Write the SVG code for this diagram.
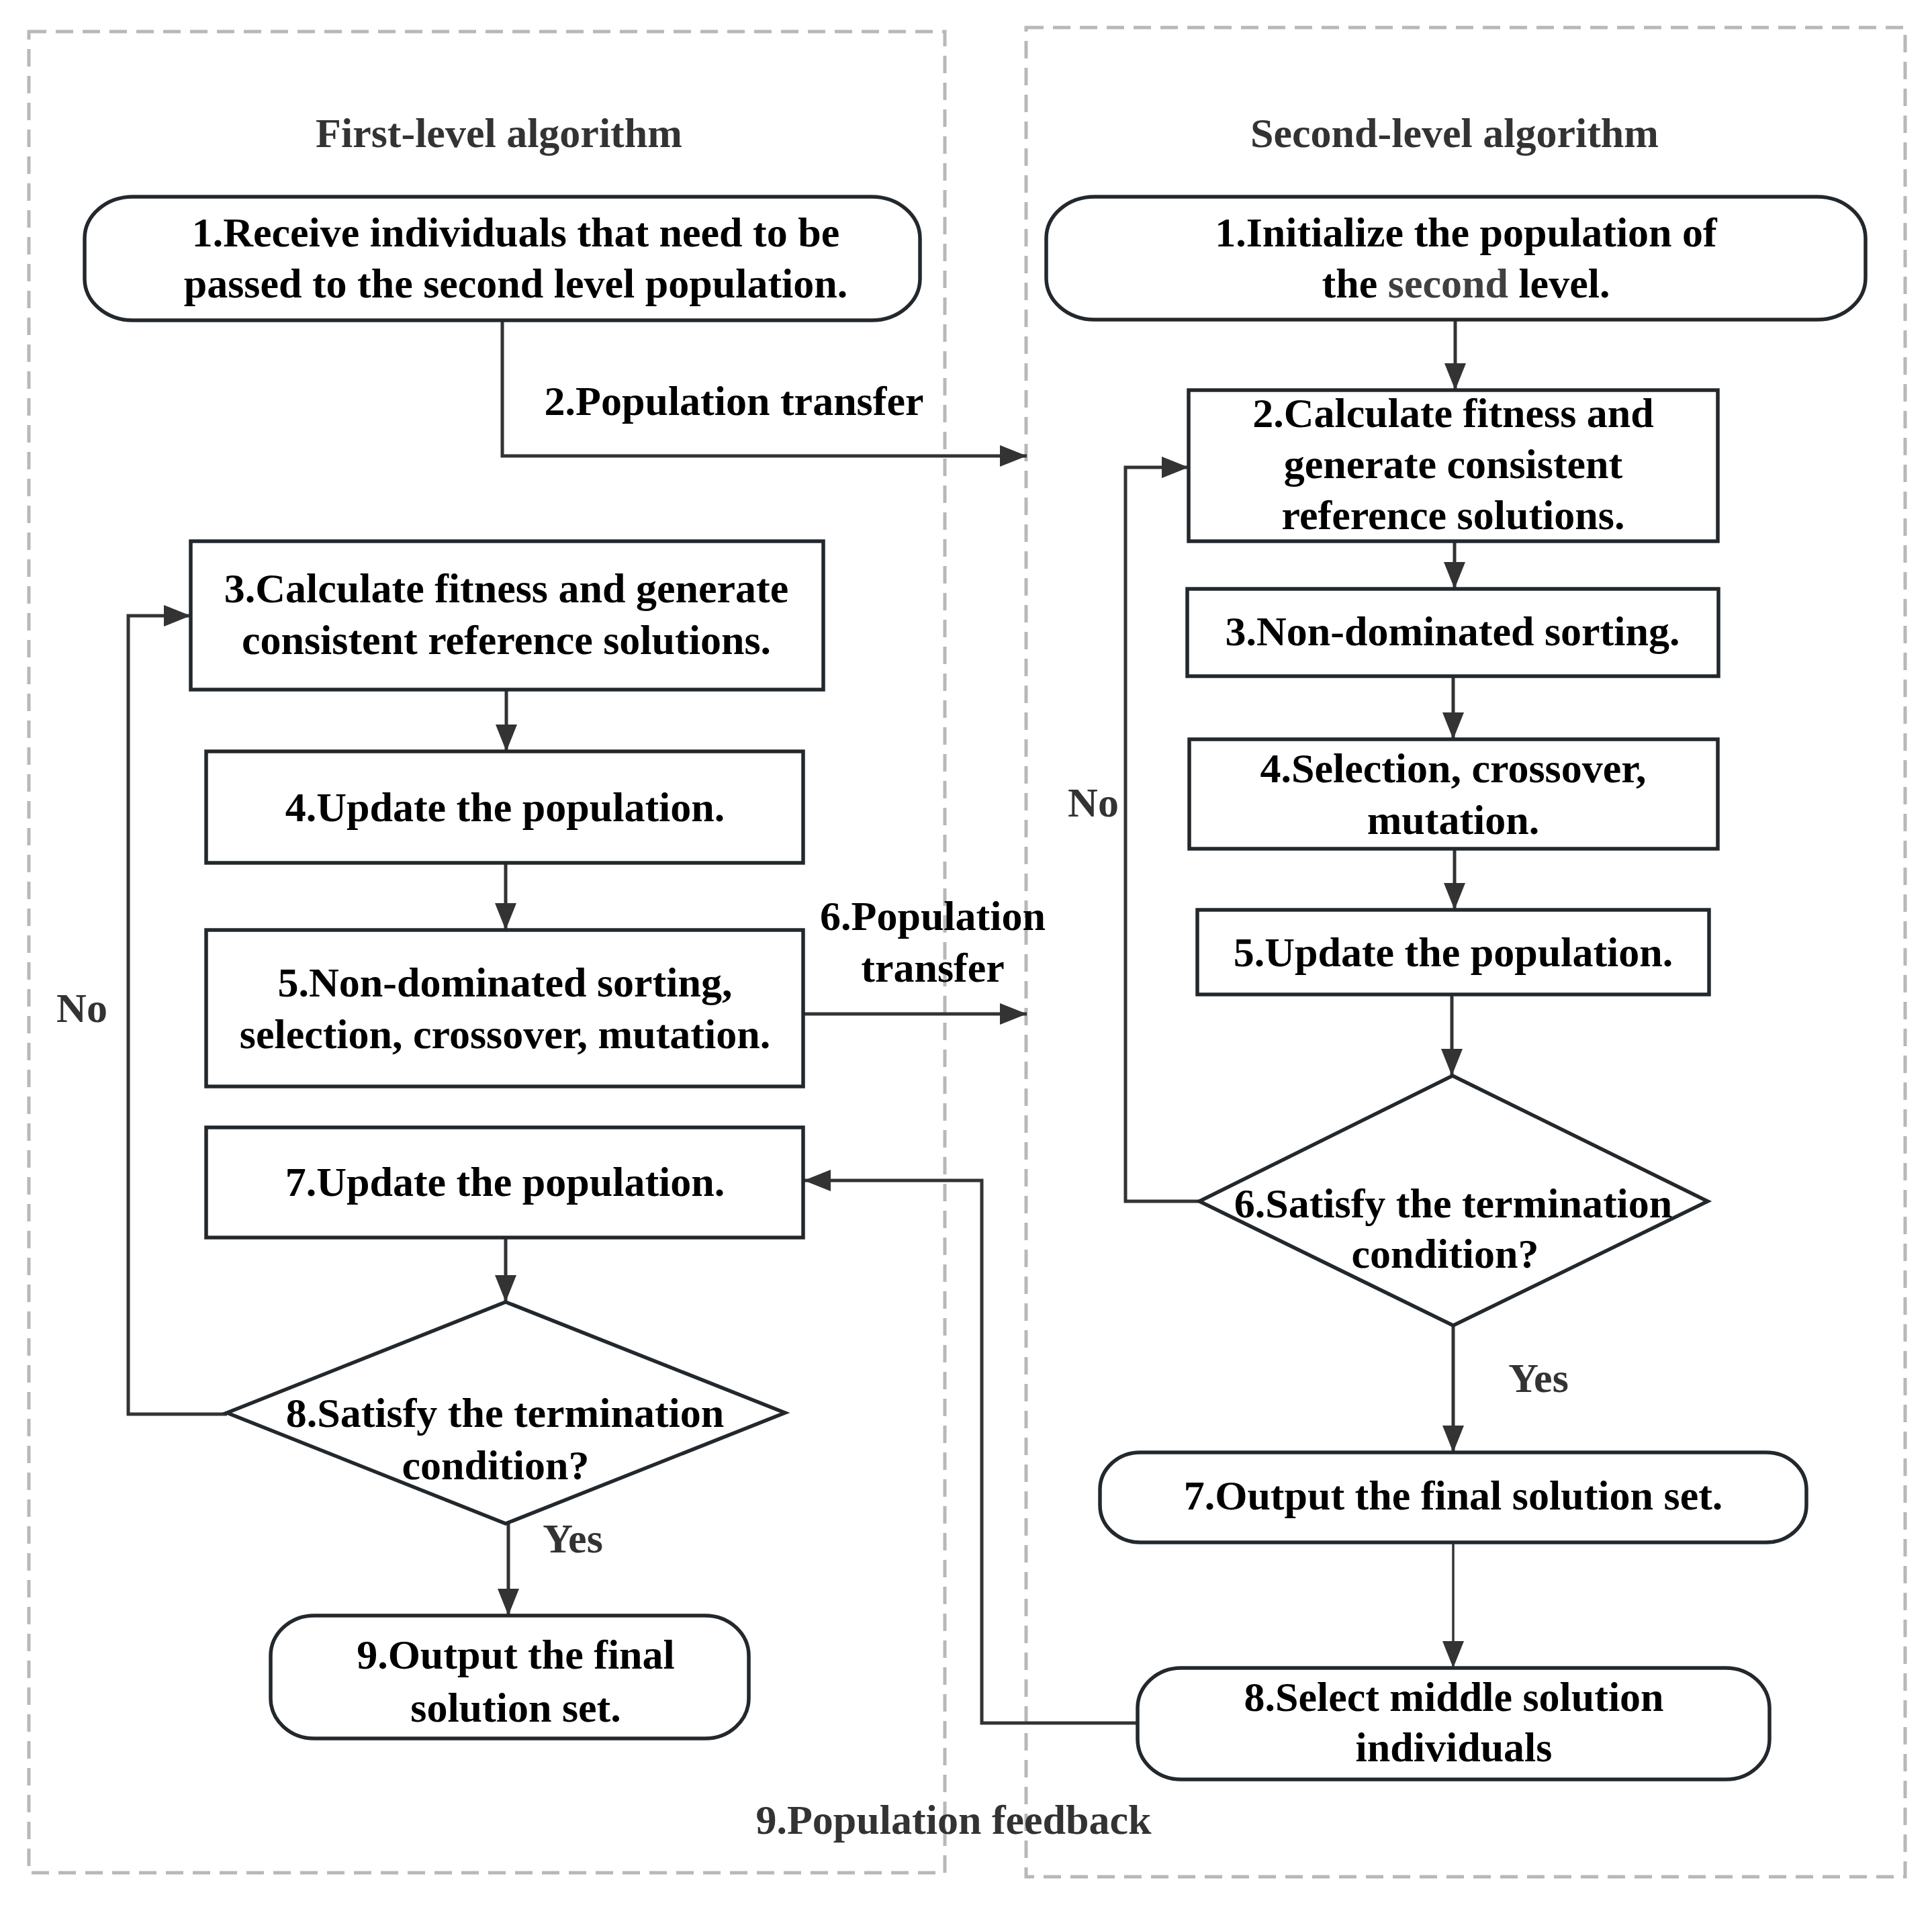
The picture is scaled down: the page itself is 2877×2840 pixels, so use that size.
<svg xmlns="http://www.w3.org/2000/svg" width="2877" height="2840" viewBox="0 0 2877 2840">
<style>
.frame{fill:none;stroke:#b8b8b8;stroke-width:5;stroke-dasharray:26 14}
.node{fill:#fff;stroke:#23282d;stroke-width:5.5}
.t{font-family:"Liberation Serif","Times New Roman",serif;font-weight:bold;font-size:62px;fill:#000;text-anchor:middle}
.lbl{font-family:"Liberation Serif","Times New Roman",serif;font-weight:bold;font-size:62px;fill:#333;text-anchor:middle}
.c{fill:none;stroke:#333;stroke-width:5}
</style>
<defs>
<marker id="ah" viewBox="0 0 40 32" refX="40" refY="16" markerWidth="40" markerHeight="32" markerUnits="userSpaceOnUse" orient="auto">
<path d="M0,0 L40,16 L0,32 Z" fill="#333"/>
</marker>
</defs>
<rect width="2877" height="2840" fill="#fff"/>
<g id="frames">
<rect class="frame" x="43" y="47" width="1364" height="2742"/>
<rect class="frame" x="1528" y="41" width="1309" height="2754"/>
</g>
<g id="titles">
<text class="lbl" x="743" y="219">First-level algorithm</text>
<text class="lbl" x="2166" y="219">Second-level algorithm</text>
</g>
<g id="connectors">
<path class="c" d="M748,477 V679 H1529" marker-end="url(#ah)"/>
<path class="c" d="M2167,476 V581" marker-end="url(#ah)"/>
<path class="c" d="M2166,806 V877" marker-end="url(#ah)"/>
<path class="c" d="M2164,1007 V1101" marker-end="url(#ah)"/>
<path class="c" d="M2166,1264 V1355" marker-end="url(#ah)"/>
<path class="c" d="M2162,1481 V1602" marker-end="url(#ah)"/>
<path class="c" d="M1786,1789 H1676 V696 H1770" marker-end="url(#ah)"/>
<path class="c" d="M2164,1974 V2163" marker-end="url(#ah)"/>
<path class="c" style="stroke-width:3.5" d="M2164,2297 V2484" marker-end="url(#ah)"/>
<path class="c" d="M1694,2566 H1462 V1758 H1197" marker-end="url(#ah)"/>
<path class="c" d="M754,1027 V1119" marker-end="url(#ah)"/>
<path class="c" d="M753,1285 V1385" marker-end="url(#ah)"/>
<path class="c" d="M1196,1510 H1529" marker-end="url(#ah)"/>
<path class="c" d="M753,1843 V1939" marker-end="url(#ah)"/>
<path class="c" d="M338,2106 H191 V917 H284" marker-end="url(#ah)"/>
<path class="c" d="M757,2269 V2406" marker-end="url(#ah)"/>
</g>
<g id="connector-labels">
<text class="t" x="1093" y="618">2.Population transfer</text>
<text class="t" x="1389" y="1385">6.Population</text>
<text class="t" x="1389" y="1462">transfer</text>
<text class="lbl" x="122" y="1522">No</text>
<text class="lbl" x="1628" y="1216">No</text>
<text class="lbl" x="853" y="2312">Yes</text>
<text class="lbl" x="2291" y="2073">Yes</text>
<text class="lbl" x="1420" y="2731">9.Population feedback</text>
</g>
<g id="L1">
<rect class="node" x="126" y="293" width="1244" height="184" rx="72" ry="62"/>
<text class="t" x="768" y="367">1.Receive individuals that need to be</text>
<text class="t" x="768" y="443">passed to the second level population.</text>
</g>
<g id="L3">
<rect class="node" x="284" y="806" width="942" height="221"/>
<text class="t" x="754" y="897">3.Calculate fitness and generate</text>
<text class="t" x="754" y="974">consistent reference solutions.</text>
</g>
<g id="L4">
<rect class="node" x="307" y="1119" width="889" height="166"/>
<text class="t" x="752" y="1223">4.Update the population.</text>
</g>
<g id="L5">
<rect class="node" x="307" y="1385" width="889" height="233"/>
<text class="t" x="752" y="1484">5.Non-dominated sorting,</text>
<text class="t" x="752" y="1561">selection, crossover, mutation.</text>
</g>
<g id="L7">
<rect class="node" x="307" y="1679" width="889" height="164"/>
<text class="t" x="752" y="1781">7.Update the population.</text>
</g>
<g id="L8">
<polygon class="node" points="753,1939 1169,2104 753,2269 338,2104"/>
<text class="t" x="752" y="2125">8.Satisfy the termination</text>
<text class="t" x="738" y="2203">condition?</text>
</g>
<g id="L9">
<rect class="node" x="403" y="2406" width="712" height="183" rx="65" ry="60"/>
<text class="t" x="768" y="2485">9.Output the final</text>
<text class="t" x="768" y="2564">solution set.</text>
</g>
<g id="R1">
<rect class="node" x="1558" y="293" width="1220" height="183" rx="72" ry="62"/>
<text class="t" x="2183" y="367">1.Initialize the population of</text>
<text class="t" x="2183" y="443">the <tspan fill="#404040">second</tspan> level.</text>
</g>
<g id="R2">
<rect class="node" x="1770" y="581" width="788" height="225"/>
<text class="t" x="2164" y="636">2.Calculate fitness and</text>
<text class="t" x="2164" y="712">generate consistent</text>
<text class="t" x="2164" y="788">reference solutions.</text>
</g>
<g id="R3">
<rect class="node" x="1768" y="877" width="791" height="130"/>
<text class="t" x="2163" y="961">3.Non-dominated sorting.</text>
</g>
<g id="R4">
<rect class="node" x="1771" y="1101" width="787" height="163"/>
<text class="t" x="2164" y="1165">4.Selection, crossover,</text>
<text class="t" x="2164" y="1242">mutation.</text>
</g>
<g id="R5">
<rect class="node" x="1783" y="1355" width="762" height="126"/>
<text class="t" x="2164" y="1439">5.Update the population.</text>
</g>
<g id="R6">
<polygon class="node" points="2163,1602 2543,1789 2164,1974 1786,1789"/>
<text class="t" x="2164" y="1813">6.Satisfy the termination</text>
<text class="t" x="2152" y="1888">condition?</text>
</g>
<g id="R7">
<rect class="node" x="1638" y="2163" width="1052" height="134" rx="60" ry="55"/>
<text class="t" x="2164" y="2248" fill="#222">7.Output the final solution set.</text>
</g>
<g id="R8">
<rect class="node" x="1694" y="2484" width="941" height="166" rx="65" ry="60"/>
<text class="t" x="2165" y="2548">8.Select middle solution</text>
<text class="t" x="2165" y="2623">individuals</text>
</g>
</svg>
